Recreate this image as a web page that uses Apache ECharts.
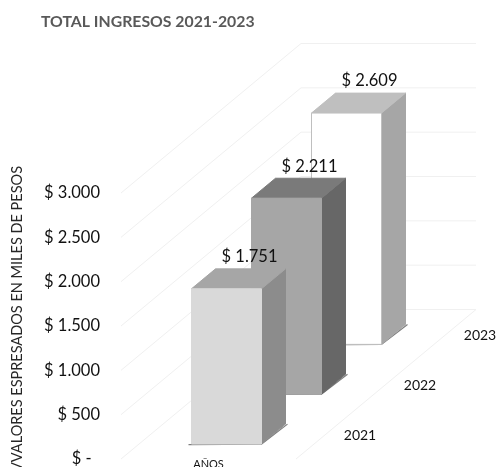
<!DOCTYPE html>
<html>
<head>
<meta charset="utf-8">
<style>html,body{margin:0;padding:0;background:#fff}#chart{width:497px;height:467px}</style>
<script src="https://cdn.jsdelivr.net/npm/echarts@6/dist/echarts.min.js"></script>
</head>
<body>
<div id="chart"></div>
<script>
// Annual income, drawn as 3D columns on an oblique floor
const chartTitle = 'TOTAL INGRESOS 2021-2023';
const valueAxisTitle = 'VVALORES ESPRESADOS EN MILES DE PESOS';
const depthAxisTitle = 'AÑOS';
const years = ['2021', '2022', '2023'];
const ingresos = [1751, 2211, 2609];
const valueTicks = [0, 500, 1000, 1500, 2000, 2500, 3000];
const valueTickLabels = ['$ -  ', '$ 500', '$ 1.000', '$ 1.500', '$ 2.000', '$ 2.500', '$ 3.000'];

// Oblique projection: screen shift of one full floor depth
const FLOOR_DX = 180, FLOOR_DY = -149.5;
const BAR_START = 0.3, BAR_WIDTH = 0.4;   // share of the floor width
const BAR_DEPTH = 0.4;                    // share of one year's slot
const FONT = 'Lato, "Open Sans", sans-serif';

const barStyles = [
  { front: '#d9d9d9', top: '#a6a6a6', side: '#8c8c8c', edge: '#d9d9d9' },
  { front: '#a6a6a6', top: '#7a7a7a', side: '#676767', edge: '#a6a6a6' },
  { front: '#ffffff', top: '#bfbfbf', side: '#a6a6a6', edge: '#bfbfbf' }
];

const fmtMoney = v => '$ ' + String(v).replace(/\B(?=(\d{3})+$)/g, '.');
const project = (api, s, value, depth) => {
  const p = api.coord([s, value]);
  return [p[0] + depth * FLOOR_DX, p[1] + depth * FLOOR_DY];
};
const poly = (points, fill, stroke) => ({
  type: 'polygon',
  shape: { points },
  style: { fill, stroke: stroke || fill, lineWidth: 1 }
});

function renderWalls(params, api) {
  const v = api.value(0);
  const line = pts => ({
    type: 'polyline',
    shape: { points: pts },
    style: { fill: null, stroke: '#f0f0f0', lineWidth: 1 }
  });
  const children = [line([project(api, 0, v, 0), project(api, 0, v, 1), project(api, 1, v, 1)])];
  if (v === 0) children.push(line([project(api, 1, 0, 1), project(api, 1, 0, 0)]));
  return { type: 'group', children };
}

function renderBar(params, api) {
  const i = api.value(0);
  const v = api.value(1);
  const style = barStyles[i];
  const d0 = (i + 0.5 - BAR_DEPTH / 2) / years.length;
  const d1 = d0 + BAR_DEPTH / years.length;
  const s0 = BAR_START, s1 = BAR_START + BAR_WIDTH;
  const p = (s, val, d) => project(api, s, val, d);
  const labelAt = p((s0 + s1) / 2, v, d1);
  const yearAt = p(1, 0, (i + 0.5) / years.length);
  return {
    type: 'group',
    children: [
      // contact shadow along the foot of the column
      { type: 'polyline',
        shape: { points: [[p(s0, 0, d0)[0] - 3, p(s0, 0, d0)[1] + 0.5], p(s1, 0, d0), [p(s1, 0, d1)[0] + 2, p(s1, 0, d1)[1]]] },
        style: { fill: null, stroke: '#7f7f7f', lineWidth: 1.2 } },
      poly([p(s1, 0, d0), p(s1, 0, d1), p(s1, v, d1), p(s1, v, d0)], style.side),
      poly([p(s0, v, d0), p(s1, v, d0), p(s1, v, d1), p(s0, v, d1)], style.top),
      poly([p(s0, 0, d0), p(s1, 0, d0), p(s1, v, d0), p(s0, v, d0)], style.front, style.edge),
      { type: 'text', z2: 20,
        style: { text: fmtMoney(v), x: labelAt[0] - 1, y: labelAt[1] - 12,
          align: 'center', verticalAlign: 'middle', font: '16.5px ' + FONT, fill: '#111111' } },
      { type: 'text',
        style: { text: years[i], x: yearAt[0] + 34, y: yearAt[1] + 1,
          align: 'center', verticalAlign: 'middle', font: '14px ' + FONT, fill: '#111111' } }
    ]
  };
}

const chart = echarts.init(document.getElementById('chart'), null, { renderer: 'canvas' });
chart.setOption({
  animation: false,
  backgroundColor: '#ffffff',
  title: {
    text: chartTitle, left: 36, top: 9,
    textStyle: { fontFamily: FONT, fontSize: 15.8, fontWeight: 'bold', color: '#595959' }
  },
  grid: { left: 121, top: 193, width: 175, height: 266, outerBoundsMode: 'none', containLabel: false },
  xAxis: {
    type: 'value', min: 0, max: 1,
    axisLine: { show: false }, axisTick: { show: false },
    axisLabel: { show: false }, splitLine: { show: false },
    name: depthAxisTitle, nameLocation: 'middle', nameGap: 0,
    nameTextStyle: { fontFamily: FONT, fontSize: 11, color: '#111111' }
  },
  yAxis: {
    type: 'value', min: 0, max: 3000, interval: 500,
    axisLine: { show: false }, axisTick: { show: false }, splitLine: { show: false },
    axisLabel: {
      margin: 21, fontFamily: FONT, fontSize: 16.5, color: '#111111',
      formatter: v => valueTickLabels[valueTicks.indexOf(v)]
    }
  },
  graphic: [{
    type: 'text', x: 17, y: 319, rotation: Math.PI / 2,
    style: {
      text: valueAxisTitle, align: 'center', verticalAlign: 'middle',
      font: '14.5px ' + FONT, fill: '#262626'
    }
  }],
  series: [
    {
      type: 'custom', coordinateSystem: 'cartesian2d', clip: false, silent: true, z: 1,
      renderItem: renderWalls,
      encode: { y: 0 },
      data: valueTicks.map(v => [v])
    },
    {
      type: 'custom', coordinateSystem: 'cartesian2d', clip: false, silent: true, z: 2,
      renderItem: renderBar,
      encode: { y: 1 },
      // far columns first so nearer ones paint over them
      data: years.map((y, i) => [i, ingresos[i]]).reverse()
    }
  ]
});
</script>
</body>
</html>
